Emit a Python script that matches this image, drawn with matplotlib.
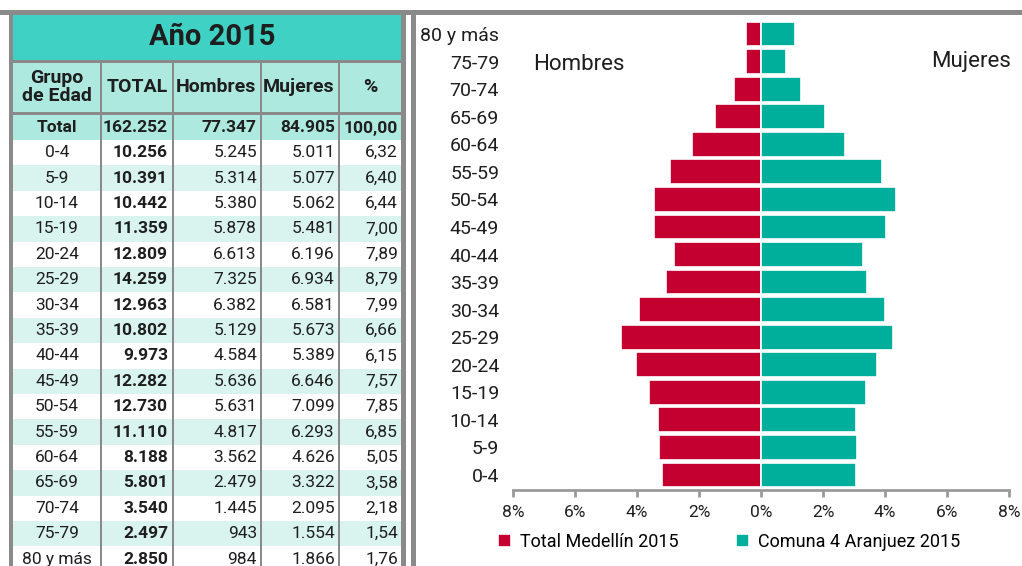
import numpy as np
import matplotlib
matplotlib.use('Agg')
import matplotlib.pyplot as plt
from matplotlib.patches import Rectangle

plt.rcParams['font.family'] = ['Roboto', 'DejaVu Sans']

# table data
grupos = ['0-4', '5-9', '10-14', '15-19', '20-24', '25-29', '30-34', '35-39', '40-44',
          '45-49', '50-54', '55-59', '60-64', '65-69', '70-74', '75-79', '80 y más']
total = [10256, 10391, 10442, 11359, 12809, 14259, 12963, 10802, 9973,
         12282, 12730, 11110, 8188, 5801, 3540, 2497, 2850]
hombres = [5245, 5314, 5380, 5878, 6613, 7325, 6382, 5129, 4584,
           5636, 5631, 4817, 3562, 2479, 1445, 943, 984]
mujeres = [5011, 5077, 5062, 5481, 6196, 6934, 6581, 5673, 5389,
           6646, 7099, 6293, 4626, 3322, 2095, 1554, 1866]
pct = [6.32, 6.40, 6.44, 7.00, 7.89, 8.79, 7.99, 6.66, 6.15,
       7.57, 7.85, 6.85, 5.05, 3.58, 2.18, 1.54, 1.76]
fila_total = ['Total', 162252, 77347, 84905, 100.00]

# pyramid values (% of population)
pir_hombres = [3.19, 3.28, 3.32, 3.60, 4.03, 4.51, 3.93, 3.05, 2.82,
               3.45, 3.44, 2.94, 2.22, 1.48, 0.86, 0.49, 0.49]
pir_mujeres = [3.05, 3.11, 3.07, 3.39, 3.75, 4.27, 4.00, 3.42, 3.29,
               4.03, 4.36, 3.89, 2.72, 2.07, 1.30, 0.81, 1.10]
xticks = [-8, -6, -4, -2, 0, 2, 4, 6, 8]

def miles(v):
    return f"{v:,}".replace(',', '.')

def dec(v):
    return f"{v:.2f}".replace('.', ',')

RED = '#C3002F'
TEAL = '#00AF9B'
GRAY = '#8A8A8A'
TXT = '#1E1E1E'
TITLE_BG = '#3FD1C3'
HEAD_BG = '#ADE9DF'
ROW_BG = '#D9F3EE'

W, H = 1022, 566
fig = plt.figure(figsize=(W / 100, H / 100), dpi=100)

bg = fig.add_axes([0, 0, 1, 1])
bg.set_xlim(0, W)
bg.set_ylim(H, 0)
bg.axis('off')

def box(x0, y0, x1, y1, c):
    bg.add_patch(Rectangle((x0, y0), x1 - x0, y1 - y0, facecolor=c, edgecolor='none'))

# table backgrounds
box(13, 15, 401, 60, TITLE_BG)
box(13, 62.5, 401, 111.5, HEAD_BG)
box(13, 114.5, 401, 140, HEAD_BG)
row_h = 25.4
for i in range(len(grupos)):
    y0 = 140 + i * row_h
    box(13, y0, 401, y0 + row_h, ROW_BG if i % 2 else 'white')

# grid lines / frame
box(0, 10, W, 15, GRAY)
box(9, 10, 13, H, GRAY)
box(401, 10, 406, H, GRAY)
box(411, 10, 416, H, GRAY)
box(13, 60, 401, 62.5, GRAY)
box(13, 111.5, 401, 114.5, GRAY)
for xl in [99.5, 171.5, 259.5, 337.5]:
    box(xl, 62.5, xl + 2.5, H, GRAY)

# table text
bg.text(212, 37, 'Año 2015', ha='center', va='center', fontsize=21,
        fontweight='bold', color=TXT)
heads = [('Grupo\nde Edad', 57), ('TOTAL', 137), ('Hombres', 216),
         ('Mujeres', 299), ('%', 370)]
for t, xc in heads:
    bg.text(xc, 87, t, ha='center', va='center', fontsize=14,
            fontweight='bold', color=TXT, linespacing=0.95)

right_x = [168, 257, 335, 398]
yt = 128
bg.text(57, yt, fila_total[0], ha='center', va='center', fontsize=12.5,
        fontweight='bold', color=TXT)
vals_t = [miles(fila_total[1]), miles(fila_total[2]), miles(fila_total[3]), dec(fila_total[4])]
for v, xr in zip(vals_t, right_x):
    bg.text(xr, yt, v, ha='right', va='center', fontsize=12.5,
            fontweight='bold', color=TXT)

for i, g in enumerate(grupos):
    yc = 140 + i * row_h + row_h / 2
    bg.text(57, yc, g, ha='center', va='center', fontsize=12.5, color=TXT)
    bg.text(right_x[0], yc, miles(total[i]), ha='right', va='center',
            fontsize=12.5, fontweight='bold', color=TXT)
    bg.text(right_x[1], yc, miles(hombres[i]), ha='right', va='center',
            fontsize=12.5, color=TXT)
    bg.text(right_x[2], yc, miles(mujeres[i]), ha='right', va='center',
            fontsize=12.5, color=TXT)
    bg.text(right_x[3], yc, dec(pct[i]), ha='right', va='center',
            fontsize=12.5, color=TXT)

# pyramid
ax = fig.add_axes([513 / W, (H - 490) / H, 496 / W, (490 - 17.5) / H])
y = np.arange(len(grupos))
b1 = ax.barh(y, -np.array(pir_hombres), height=0.9, color=RED,
             edgecolor='white', linewidth=1.2, label='Total Medellín 2015')
b2 = ax.barh(y, pir_mujeres, height=0.9, color=TEAL,
             edgecolor='white', linewidth=1.2, label='Comuna 4 Aranjuez 2015')
ax.set_xlim(-8, 8)
ax.set_ylim(-0.544, 16.6)
ax.set_yticks(y)
ax.set_yticklabels(grupos)
ax.set_xticks(xticks)
ax.set_xticklabels([f"{abs(t)}%" for t in xticks])
for s in ['left', 'top', 'right']:
    ax.spines[s].set_visible(False)
ax.spines['bottom'].set_color('#9A9A9A')
ax.spines['bottom'].set_linewidth(2)
ax.tick_params(axis='x', direction='out', length=5, width=2, color='#9A9A9A',
               labelsize=12.5, labelcolor=TXT, pad=6)
ax.tick_params(axis='y', length=0, labelsize=14, labelcolor=TXT, pad=10)
ax.patch.set_alpha(0)

ax.text(-5.87, 14.9, 'Hombres', ha='center', va='center', fontsize=16, color=TXT)
ax.text(6.77, 15.0, 'Mujeres', ha='center', va='center', fontsize=16, color=TXT)

fig.legend(handles=[b1, b2], loc='center left',
           bbox_to_anchor=(498 / W, 1 - 542 / H), ncol=2, frameon=False,
           handlelength=0.7, handleheight=0.7, handletextpad=0.5,
           columnspacing=3.2, fontsize=13, borderaxespad=0, borderpad=0)

fig.savefig('out.png', dpi=100)
